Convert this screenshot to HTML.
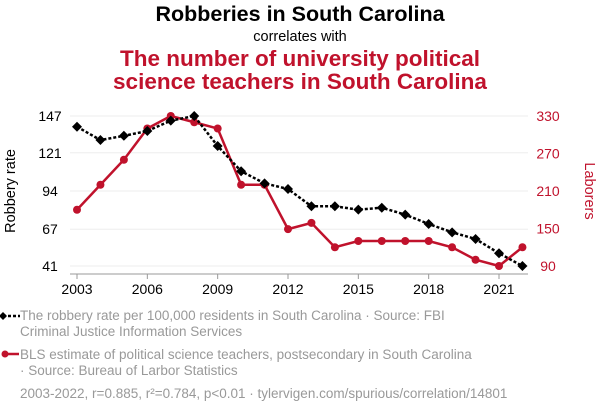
<!DOCTYPE html>
<html><head><meta charset="utf-8"><style>
body{margin:0;background:#fff;font-family:"Liberation Sans",sans-serif;}
svg{display:block}
</style></head><body>
<svg id="c" width="600" height="414">
<text x="300" y="21" text-anchor="middle" font-size="21.5" font-weight="bold" fill="#000">Robberies in South Carolina</text>
<text x="300" y="41" text-anchor="middle" font-size="14.5" fill="#000">correlates with</text>
<text x="300" y="66" text-anchor="middle" font-size="22.5" font-weight="bold" fill="#c0122c">The number of university political</text>
<text x="300" y="89" text-anchor="middle" font-size="22.5" font-weight="bold" fill="#c0122c">science teachers in South Carolina</text>
<text transform="translate(15,191) rotate(-90)" text-anchor="middle" font-size="14.5" fill="#000">Robbery rate</text>
<text transform="translate(585,191) rotate(90)" text-anchor="middle" font-size="14.5" fill="#c0122c">Laborers</text>
<g id="grid"></g><g id="axes"></g><g id="marks"></g>
<g font-size="13.5" fill="#999">
<line x1="3" y1="316" x2="20" y2="316" stroke="#000" stroke-width="2.5" stroke-dasharray="3,2"/>
<path d="M3 312 L7 316 L3 320 L-1 316Z" fill="#000"/>
<text x="20" y="320">The robbery rate per 100,000 residents in South Carolina · Source: FBI</text>
<text x="20" y="336">Criminal Justice Information Services</text>
<line x1="3" y1="354" x2="19" y2="354" stroke="#c0122c" stroke-width="2.5"/>
<circle cx="5" cy="354" r="3.5" fill="#c0122c"/>
<text x="20" y="359">BLS estimate of political science teachers, postsecondary in South Carolina</text>
<text x="20" y="375">· Source: Bureau of Larbor Statistics</text>
<text x="20" y="398">2003-2022, r=0.885, r²=0.784, p&lt;0.01 · tylervigen.com/spurious/correlation/14801</text>
</g>
</svg>
<script>
const years=[2003,2004,2005,2006,2007,2008,2009,2010,2011,2012,2013,2014,2015,2016,2017,2018,2019,2020,2021,2022];
const robbery=[139.4,130,133,136.4,143.7,147,125.8,108,99.4,95.4,83.2,83.2,80.8,82.2,77.3,70.7,64.8,60.1,50,41];
const teachers=[180,220,260,310,330,320,310,220,220,149,159,120,130,130,130,130,120,100,90,120];
const leftTicks=[41,67,94,121,147];
const rightTicks=[90,150,210,270,330];
const xTicks=[2003,2006,2009,2012,2015,2018,2021];
const NS="http://www.w3.org/2000/svg";
const x=v=>77+(v-2003)*(422/18);
const yL=v=>266-(v-41)*(150/106);
const yR=v=>266-(v-90)*(150/240);
function mk(t,a,p){const e=document.createElementNS(NS,t);for(const k in a)e.setAttribute(k,a[k]);document.getElementById(p).appendChild(e);return e;}
leftTicks.forEach(t=>{const g=mk('line',{x1:70,x2:528,y1:yL(t),y2:yL(t),stroke:'#eee','stroke-width':1},'grid');


const l=mk('text',{x:50,y:yL(t)+5,'text-anchor':'middle','font-size':14,fill:'#000'},'axes');l.textContent=t;

});
rightTicks.forEach(t=>{const l=mk('text',{x:548,y:yR(t)+5,'text-anchor':'middle','font-size':14,fill:'#c0122c'},'axes');l.textContent=t;

});
const ax=mk('line',{x1:70,x2:528,y1:274,y2:274,stroke:'#999'},'axes');


xTicks.forEach(t=>{const tk=mk('line',{x1:x(t),x2:x(t),y1:274,y2:279,stroke:'#999'},'axes');


const l=mk('text',{x:x(t),y:294,'text-anchor':'middle','font-size':14,fill:'#000'},'axes');l.textContent=t;

});
const rp=mk('polyline',{points:teachers.map((v,i)=>x(years[i])+','+yR(v)).join(' '),fill:'none',stroke:'#c0122c','stroke-width':2.5},'marks');


teachers.forEach((v,i)=>{const c=mk('circle',{cx:x(years[i]),cy:yR(v),r:4,fill:'#c0122c'},'marks');

});
const bp=mk('polyline',{points:robbery.map((v,i)=>x(years[i])+','+yL(v)).join(' '),fill:'none',stroke:'#000','stroke-width':2.5,'stroke-dasharray':'3,2'},'marks');


robbery.forEach((v,i)=>{const cx=x(years[i]),cy=yL(v);const p=mk('path',{d:`M${cx} ${cy-5}L${cx+5} ${cy}L${cx} ${cy+5}L${cx-5} ${cy}Z`,fill:'#000'},'marks');

});
</script>
</body></html>
